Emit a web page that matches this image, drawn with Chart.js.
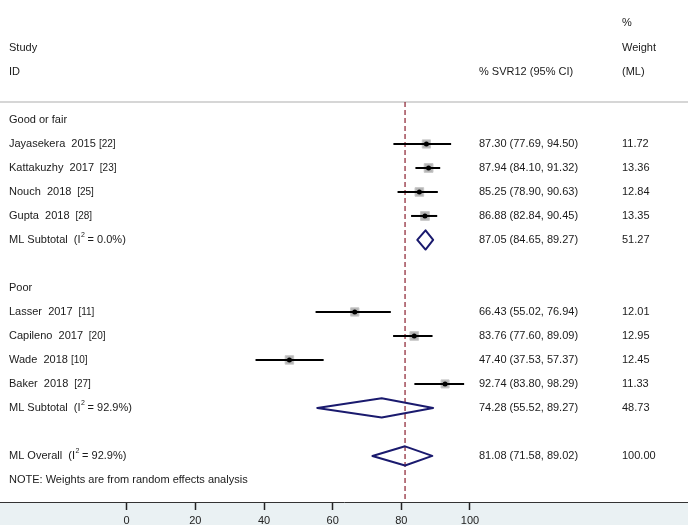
<!DOCTYPE html>
<html>
<head>
<meta charset="utf-8">
<script src="https://cdn.jsdelivr.net/npm/chart.js@4.4.0/dist/chart.umd.min.js"></script>
<style>
  body { margin: 0; background: #fff; overflow: hidden; }
  #wrap { width: 688px; height: 532px; }
</style>
</head>
<body>
<div id="wrap"><canvas id="chart"></canvas></div>
<script>
// studies
const studyNames = ['Jayasekera  2015', 'Kattakuzhy  2017', 'Nouch  2018', 'Gupta  2018',
                    'Lasser  2017', 'Capileno  2017', 'Wade  2018', 'Baker  2018'];
const studyRefs = ['[22]', ' [23]', ' [25]', ' [28]', ' [11]', ' [20]', '[10]', ' [27]'];
const studyRows = [6, 7, 8, 9, 13, 14, 15, 16];
const studyEst = [87.30, 87.94, 85.25, 86.88, 66.43, 83.76, 47.40, 92.74];
const studyLo = [77.69, 84.10, 78.90, 82.84, 55.02, 77.60, 37.53, 83.80];
const studyHi = [94.50, 91.32, 90.63, 90.45, 76.94, 89.09, 57.37, 98.29];
const studyWeight = [11.72, 13.36, 12.84, 13.35, 12.01, 12.95, 12.45, 11.33];

// pooled estimates
const poolNames = ['ML Subtotal', 'ML Subtotal', 'ML Overall'];
const poolI2 = ['0.0%', '92.9%', '92.9%'];
const poolRows = [10, 17, 19];
const poolEst = [87.05, 74.28, 81.08];
const poolLo = [84.65, 55.52, 71.58];
const poolHi = [89.27, 89.27, 89.02];
const poolWeight = [51.27, 48.73, 100.00];

const groupNames = ['Good or fair', 'Poor'];
const groupRows = [5, 12];
const xTicks = [0, 20, 40, 60, 80, 100];
const overallLine = 81.08;

const X_MIN = -36.9, X_MAX = 163.5;
const Y_MAX = 20.92;
const SEP_ROW = 4.25;
const DIAMOND_H = 0.4;

const FONT = '"Liberation Sans", Arial, sans-serif';

let myChart = null;

function buildDatasets() {
    let sets = [];

    // reference line at overall estimate
    sets.push({
        type: 'line',
        data: [{x: overallLine, y: SEP_ROW}, {x: overallLine, y: Y_MAX}],
        borderColor: '#8b1f2e',
        borderWidth: 1.2,
        borderDash: [5, 3],
        pointRadius: 0,
        order: 5
    });

    // separator line under header
    sets.push({
        type: 'line',
        data: [{x: X_MIN, y: SEP_ROW}, {x: X_MAX, y: SEP_ROW}],
        borderColor: '#c8c8c8',
        borderWidth: 1.5,
        pointRadius: 0,
        order: 5
    });

    // weight boxes
    sets.push({
        type: 'scatter',
        data: studyEst.map((v, i) => ({x: v, y: studyRows[i]})),
        pointStyle: 'rect',
        pointRadius: studyWeight.map(w => 2.4 * Math.sqrt(w) / Math.SQRT2),
        backgroundColor: '#b4b4b4',
        borderColor: '#c8c8c8',
        borderWidth: 1,
        order: 3
    });

    // confidence intervals
    for (let i = 0; i < studyEst.length; ++i) {
        sets.push({
            type: 'line',
            data: [{x: studyLo[i], y: studyRows[i]}, {x: studyHi[i], y: studyRows[i]}],
            borderColor: '#000',
            borderWidth: 2,
            pointRadius: 0,
            order: 2
        });
    }

    // point estimates
    sets.push({
        type: 'scatter',
        data: studyEst.map((v, i) => ({x: v, y: studyRows[i]})),
        pointStyle: 'circle',
        pointRadius: 2.5,
        backgroundColor: '#000',
        borderWidth: 0,
        order: 1
    });

    // diamonds
    for (let i = 0; i < poolEst.length; ++i) {
        let r = poolRows[i];
        sets.push({
            type: 'line',
            data: [
                {x: poolLo[i], y: r},
                {x: poolEst[i], y: r - DIAMOND_H},
                {x: poolHi[i], y: r},
                {x: poolEst[i], y: r + DIAMOND_H},
                {x: poolLo[i], y: r}
            ],
            borderColor: '#1a1a6e',
            borderWidth: 2,
            borderJoinStyle: 'round',
            borderCapStyle: 'round',
            pointRadius: 0,
            fill: false,
            order: 1
        });
    }
    return sets;
}

const bgPlugin = {
    id: 'bg',
    beforeDraw(chart) {
        let ctx = chart.ctx;
        let area = chart.chartArea;
        ctx.save();
        ctx.fillStyle = '#fff';
        ctx.fillRect(0, 0, chart.width, chart.height);
        ctx.fillStyle = '#eaf1f3';
        ctx.fillRect(0, area.bottom, chart.width, chart.height - area.bottom);
        ctx.restore();
    }
};

function drawI2(ctx, x, y, name, i2) {
    let s = name + '  (I';
    ctx.fillText(s, x, y);
    let w = ctx.measureText(s).width;
    ctx.font = '7px ' + FONT;
    ctx.fillText('2', x + w + 0.5, y - 5);
    ctx.font = '11px ' + FONT;
    ctx.fillText(' = ' + i2 + ')', x + w + 4, y);
}

const textPlugin = {
    id: 'texts',
    afterDraw(chart) {
        let ctx = chart.ctx;
        let ys = chart.scales.y;
        let row = r => ys.getPixelForValue(r);
        ctx.save();
        ctx.fillStyle = '#1a1a1a';
        ctx.textBaseline = 'middle';
        ctx.font = '11px ' + FONT;

        // header
        ctx.fillText('Study', 9, row(2));
        ctx.fillText('ID', 9, row(3));
        ctx.fillText('% SVR12 (95% CI)', 479, row(3));
        ctx.fillText('%', 622, row(0.96));
        ctx.fillText('Weight', 622, row(2));
        ctx.fillText('(ML)', 622, row(3));

        for (let i = 0; i < groupNames.length; ++i) {
            ctx.fillText(groupNames[i], 9, row(groupRows[i]));
        }

        for (let i = 0; i < studyNames.length; ++i) {
            let y = row(studyRows[i]);
            ctx.font = '11px ' + FONT;
            ctx.fillText(studyNames[i], 9, y);
            let w = ctx.measureText(studyNames[i] + ' ').width;
            ctx.fillText(studyEst[i].toFixed(2) + ' (' + studyLo[i].toFixed(2) + ', ' + studyHi[i].toFixed(2) + ')', 479, y);
            ctx.fillText(studyWeight[i].toFixed(2), 622, y);
            ctx.font = '10px ' + FONT;
            ctx.fillText(studyRefs[i], 9 + w, y);
        }

        ctx.font = '11px ' + FONT;
        for (let i = 0; i < poolNames.length; ++i) {
            let y = row(poolRows[i]);
            drawI2(ctx, 9, y, poolNames[i], poolI2[i]);
            ctx.fillText(poolEst[i].toFixed(2) + ' (' + poolLo[i].toFixed(2) + ', ' + poolHi[i].toFixed(2) + ')', 479, y);
            ctx.fillText(poolWeight[i].toFixed(2), 622, y);
        }

        ctx.fillText('NOTE: Weights are from random effects analysis', 9, row(20));
        ctx.restore();
    }
};

function initChart() {
    let ctx = document.getElementById('chart').getContext('2d');
    myChart = new Chart(ctx, {
        data: { datasets: buildDatasets() },
        options: {
            responsive: true,
            maintainAspectRatio: false,
            animation: false,
            layout: { padding: 0, autoPadding: false },
            plugins: {
                legend: { display: false },
                tooltip: { enabled: false }
            },
            scales: {
                x: {
                    type: 'linear',
                    min: X_MIN,
                    max: X_MAX,
                    afterBuildTicks: function (scale) {
                        scale.ticks = xTicks.map(v => ({value: v}));
                    },
                    grid: {
                        drawOnChartArea: false,
                        drawTicks: true,
                        tickLength: 8,
                        tickWidth: 1.5,
                        tickColor: '#222'
                    },
                    border: { display: true, color: '#333', width: 1 },
                    ticks: {
                        padding: 4.4,
                        color: '#222',
                        font: { family: FONT, size: 11 }
                    }
                },
                y: {
                    type: 'linear',
                    display: false,
                    reverse: true,
                    min: 0,
                    max: Y_MAX
                }
            }
        },
        plugins: [bgPlugin, textPlugin]
    });
}

window.onload = function () {
    initChart();
};
</script>
</body>
</html>
